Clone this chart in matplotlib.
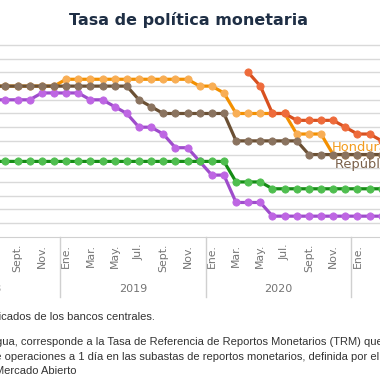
import numpy as np
import matplotlib.pyplot as plt
from matplotlib import transforms

# months as index, 0 = Jan 2019; series run from Jul 2018 (-6) to Mar 2021 (26)
meses = np.arange(-6, 27)

nan = np.nan
costa_rica = [5.0, 5.0, 5.0, 5.0, 5.25, 5.25, 5.25, 5.25, 5.0, 5.0, 4.75, 4.5,
              4.0, 4.0, 3.75, 3.25, 3.25, 2.75, 2.25, 2.25, 1.25, 1.25, 1.25,
              0.75, 0.75, 0.75, 0.75, 0.75, 0.75, 0.75, 0.75, 0.75, 0.75]
honduras = [5.5, 5.5, 5.5, 5.5, 5.5, 5.5, 5.75, 5.75, 5.75, 5.75, 5.75, 5.75,
            5.75, 5.75, 5.75, 5.75, 5.75, 5.5, 5.5, 5.25, 4.5, 4.5, 4.5, 4.5,
            4.5, 3.75, 3.75, 3.75, 3.0, 3.0, 3.0, 3.0, 3.0]
nicaragua = [nan, nan, nan, nan, nan, nan, nan, nan, nan, nan, nan, nan, nan,
             nan, nan, nan, nan, nan, nan, nan, nan, 6.0, 5.5, 4.5, 4.5, 4.25,
             4.25, 4.25, 4.25, 4.0, 3.75, 3.75, 3.5]
rep_dominicana = [5.5, 5.5, 5.5, 5.5, 5.5, 5.5, 5.5, 5.5, 5.5, 5.5, 5.5, 5.5,
                  5.0, 4.75, 4.5, 4.5, 4.5, 4.5, 4.5, 4.5, 3.5, 3.5, 3.5, 3.5,
                  3.5, 3.5, 3.0, 3.0, 3.0, 3.0, 3.0, 3.0, 3.0]
guatemala = [2.75, 2.75, 2.75, 2.75, 2.75, 2.75, 2.75, 2.75, 2.75, 2.75, 2.75,
             2.75, 2.75, 2.75, 2.75, 2.75, 2.75, 2.75, 2.75, 2.75, 2.0, 2.0,
             2.0, 1.75, 1.75, 1.75, 1.75, 1.75, 1.75, 1.75, 1.75, 1.75, 1.75]

nombres_mes = ["Ene.", "Mar.", "May.", "Jul.", "Sept.", "Nov."]
anios = ["2018", "2019", "2020", "2021"]

# (data, line colour, marker colour), drawn in this order
series = [
    (costa_rica, "#9E4CCB", "#BE66E3"),
    (honduras, "#F39000", "#F8AE55"),
    (nicaragua, "#D8501F", "#EE6B3B"),
    (rep_dominicana, "#6B5034", "#8A735F"),
    (guatemala, "#158C15", "#4FBE4F"),
]

W = H = 380.0
x_ene19 = 66.1    # px of Jan 2019
px_mes = 12.14    # px per month
y_cero = 236.7    # px of rate 0
px_medio = 13.69  # px per 0.5 points

fig = plt.figure(figsize=(3.8, 3.8), dpi=100)
ymax = 7.3
top_px = y_cero - ymax / 0.5 * px_medio
ax = fig.add_axes([0, 1 - y_cero / H, 1, (y_cero - top_px) / H])

for datos, c_linea, c_punto in series:
    ax.plot(meses, datos, color=c_linea, lw=2.3, marker="o", ms=5.2,
            markerfacecolor=c_punto, markeredgecolor=c_punto, mew=0.6)

ax.set_yticks(np.arange(0.5, 7.01, 0.5))
ax.grid(axis="y", color="#D9D9D9", lw=1)
ax.set_axisbelow(True)
ax.tick_params(left=False, labelleft=False, length=0)
for s in ["left", "right", "top"]:
    ax.spines[s].set_visible(False)
ax.spines["bottom"].set_color("#D0D0D0")

# month ticks every two months
pos = np.arange(-12, 28, 2)
ax.set_xticks(pos, [nombres_mes[(p % 12) // 2] for p in pos],
              rotation=90, fontsize=7.8, color="#747474")
ax.tick_params(axis="x", pad=5.2)
ax.set_xlim(-x_ene19 / px_mes, (W - x_ene19) / px_mes)
ax.set_ylim(0, ymax)

trans = transforms.blended_transform_factory(ax.transData, fig.transFigure)
for i, anio in enumerate(anios):
    ini = -12.5 + 12 * i
    ax.text(ini + 6, 1 - 289 / H, anio, transform=trans, ha="center",
            va="center", fontsize=8, color="#747474", clip_on=False)
    ax.plot([ini, ini], [1 - y_cero / H, 1 - 296.7 / H], transform=trans,
            color="#D0D0D0", lw=1, clip_on=False)

ax.text((331.7 - x_ene19) / px_mes, (y_cero - 150.7) / px_medio * 0.5,
        "Honduras", color="#F39C1E", fontsize=9.4, va="baseline",
        clip_on=False)
ax.text((335 - x_ene19) / px_mes, (y_cero - 168.3) / px_medio * 0.5,
        "República Dominicana", color="#7A6049", fontsize=9.4,
        va="baseline", clip_on=False)

fig.text(188.3 / W, 1 - 25 / H, "Tasa de política monetaria",
         ha="center", va="baseline", fontsize=11.5, fontweight="bold",
         color="#1F2F45")

# footnotes, positioned so that the visible part starts where it does
renderer = fig.canvas.get_renderer()
estilo = dict(fontsize=8.0, family="Liberation Sans", color="#333333",
              va="baseline")


def nota(x_px, y_px, antes, resto):
    t = fig.text(0, 0, antes, **estilo)
    w = t.get_window_extent(renderer).width
    t.remove()
    fig.text((x_px - w) / W, 1 - y_px / H, antes + resto, **estilo)


nota(1.5, 319.5, "Fuente: elaboración propia con datos publi",
     "cados de los bancos centrales.")
nota(2.7, 344.7, "Nota: en el caso de Nicarag",
     "ua, corresponde a la Tasa de Referencia de Reportos Monetarios "
     "(TRM) que es la tasa")
nota(5.0, 359.7, "de ",
     "operaciones a 1 día en las subastas de reportos monetarios, "
     "definida por el Comité de")
nota(-5.4, 374.0, "", "Mercado Abierto")

fig.savefig("out.png", dpi=100)
